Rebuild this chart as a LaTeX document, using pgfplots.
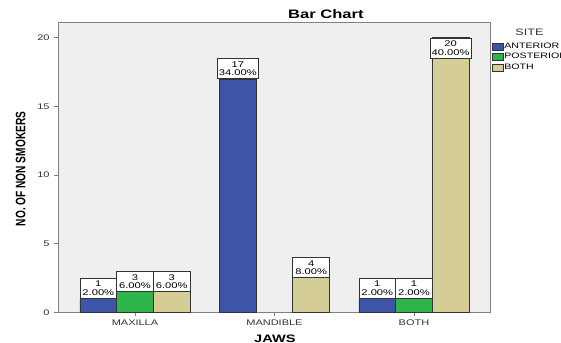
\documentclass[border=0pt]{standalone}
\usepackage{pgfplots}
\usepackage{pgfplotstable}
\pgfplotsset{compat=1.18}
\usepackage{fontspec}
\setmainfont{Liberation Sans}[FakeStretch=1.35]
\newfontfamily\plainsans{Liberation Sans}

\definecolor{siteA}{HTML}{3C55A9}
\definecolor{siteP}{HTML}{2DB44B}
\definecolor{siteB}{HTML}{D4CE96}
\definecolor{plotbg}{HTML}{EFEFEF}
\definecolor{frame}{HTML}{808080}

% counts of non smokers per jaw (x: 0 maxilla, 1 mandible, 2 both)
% pct: share of all 50 non smokers
\pgfplotstableread{
x y pct
0 1 2.00
1 17 34.00
2 1 2.00
}\anterior
\pgfplotstableread{
x y pct
0 3 6.00
2 1 2.00
}\posterior
\pgfplotstableread{
x y pct
0 3 6.00
1 4 8.00
2 20 40.00
}\bothsites

\pgfplotsset{
  sitebar/.style={draw=black!80, line width=0.5pt, forget plot},
  % boxed value labels: count on top, percentage below
  valuebox/.style={point meta=explicit symbolic,
    nodes near coords={\pgfmathprintnumber{\pgfkeysvalueof{/data point/y}}\\\pgfplotspointmeta\%},
    every node near coord/.append style={align=center, fill=white,
      draw=black!80, line width=0.5pt, minimum width=27.5pt, minimum height=15pt,
      inner xsep=1.2pt, inner ysep=0.5pt,
      font=\fontsize{6.2}{6.4}\selectfont, anchor=#1}},
  % label-only layer on top of the bars
  boxlayer/.style={forget plot, draw=none, fill=none, valuebox=#1},
}

\begin{document}
\begin{tikzpicture}
\path[use as bounding box] (0,0) rectangle (420.75pt,257.25pt);
\begin{axis}[
  at={(43.7pt,23.0pt)}, anchor=south west,
  scale only axis, width=324.3pt, height=217.2pt,
  clip=false,
  ybar=0pt, bar width=27.5pt,
  xmin=-0.55, xmax=2.55, ymin=0, ymax=21.1,
  xtick={0,1,2}, xticklabels={MAXILLA,MANDIBLE,BOTH},
  ytick={0,5,10,15,20},
  xtick pos=bottom, ytick pos=left,
  tick align=outside, major tick length=3pt,
  tick style={frame, line width=0.6pt},
  axis line style={frame, line width=1pt},
  axis background/.style={fill=plotbg},
  /pgf/number format/assume math mode=true,
  ticklabel style={font=\fontsize{6.1}{7}\selectfont, text=black!80},
  xticklabel style={yshift=1pt},
  title={\bfseries Bar Chart},
  every axis title/.style={at={(axis description cs:0.619,1.030)}, anchor=center,
    font=\fontsize{9.2}{10}\selectfont},
  xlabel={\bfseries JAWS},
  every axis x label/.style={at={(axis description cs:0.501,-0.104)}, anchor=base,
    font=\fontsize{8.1}{9}\selectfont},
  ylabel={\scalebox{1}[1.35]{\plainsans\bfseries NO. OF NON SMOKERS}},
  every axis y label/.style={at={(axis description cs:-0.087,0.495)}, anchor=center,
    rotate=90, font=\fontsize{7.6}{9}\selectfont},
  legend style={at={(axis description cs:1.0023,0.933)}, anchor=north west,
    draw=none, fill=none, inner sep=0pt, row sep=0.9pt,
    font=\fontsize{5.9}{6.5}\selectfont,
    nodes={inner sep=0.6pt}},
  legend cell align=left,
  legend image code/.code={\draw[#1,/tikz/.cd,line width=0.5pt] (0pt,-2.6pt) rectangle (8.25pt,2.6pt);},
]
% bars
\addplot[sitebar, fill=siteA, bar shift=-27.5pt] table[x=x,y=y] {\anterior};
\addplot[sitebar, fill=siteP, bar shift=0pt] table[x=x,y=y] {\posterior};
\addplot[sitebar, fill=siteB, bar shift=27.5pt] table[x=x,y=y] {\bothsites};
% value boxes: above short bars, inside the top of taller ones
\addplot[boxlayer=south, bar shift=-27.5pt] table[x=x,y=y,meta=pct] {\anterior};
\addplot[boxlayer=north, bar shift=0pt, restrict x to domain=-0.5:0.5] table[x=x,y=y,meta=pct] {\posterior};
\addplot[boxlayer=south, bar shift=0pt, restrict x to domain=1.5:2.5] table[x=x,y=y,meta=pct] {\posterior};
\addplot[boxlayer=north, bar shift=27.5pt] table[x=x,y=y,meta=pct] {\bothsites};
\addlegendimage{fill=siteA, draw=black!80}
\addlegendentry{ANTERIOR}
\addlegendimage{fill=siteP, draw=black!80}
\addlegendentry{POSTERIOR}
\addlegendimage{fill=siteB, draw=black!80}
\addlegendentry{BOTH}
\node[font=\fontsize{7}{8}\selectfont, text=black!80] at (axis description cs:1.0897,0.967) {SITE};
\end{axis}
\end{tikzpicture}
\end{document}
